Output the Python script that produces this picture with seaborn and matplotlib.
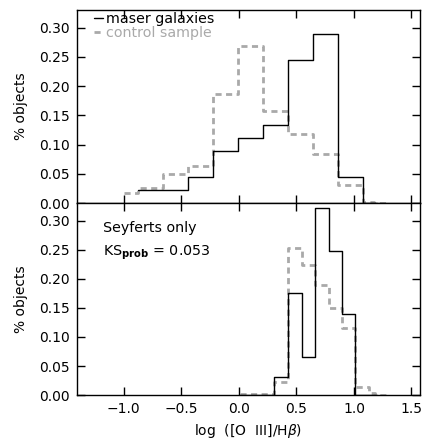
import numpy as np
import pandas as pd
import matplotlib
matplotlib.use("Agg")
import matplotlib.pyplot as plt
import seaborn as sns

# top panel: all galaxies
top_maser_edges = [-0.876, -0.659, -0.441, -0.224, -0.007, 0.210, 0.427, 0.645, 0.862, 1.079, 1.2]
top_maser_frac = [1/45, 1/45, 2/45, 4/45, 5/45, 6/45, 11/45, 13/45, 2/45, 0.0]

top_ctrl_edges = [-1.0, -0.876, -0.659, -0.441, -0.224, -0.007, 0.210, 0.427, 0.645, 0.862, 1.079, 1.171, 1.3]
top_ctrl_frac = [0.017, 0.026, 0.050, 0.064, 0.186, 0.269, 0.157, 0.118, 0.084, 0.031, 0.002, 0.0]

# bottom panel: Seyferts only
sey_maser_edges = [0.0, 0.308, 0.427, 0.545, 0.665, 0.780, 0.896, 1.012, 1.2]
sey_maser_frac = [0.0, 0.031, 0.175, 0.066, 0.321, 0.248, 0.139, 0.0]

sey_ctrl_edges = [0.013, 0.308, 0.427, 0.549, 0.665, 0.780, 0.896, 1.012, 1.128, 1.186, 1.3]
sey_ctrl_frac = [0.002, 0.023, 0.253, 0.223, 0.190, 0.149, 0.115, 0.0145, 0.003, 0.0]

ks_prob = 0.053

GRAY = "#a9a9a9"

sns.set_theme(style="ticks")
plt.rcParams["font.family"] = ["DejaVu Sans"]
plt.rcParams["mathtext.fontset"] = "dejavusans"
plt.rcParams["text.color"] = "black"
plt.rcParams["axes.labelcolor"] = "black"

fig = plt.figure(figsize=(4.30, 4.41), dpi=100)
ax1 = fig.add_axes([0.178, 0.5395, 0.7977, 0.4378])
ax2 = fig.add_axes([0.178, 0.104, 0.7977, 0.4355])


def draw_hist(ax, edges, frac, **kw):
    e = np.asarray(edges, dtype=float)
    df = pd.DataFrame({"x": (e[:-1] + e[1:]) / 2, "w": frac})
    sns.histplot(data=df, x="x", weights="w", bins=list(edges), element="step",
                 fill=False, ax=ax, **kw)


for ax, (me, mf, ce, cf) in zip(
        [ax1, ax2],
        [(top_maser_edges, top_maser_frac, top_ctrl_edges, top_ctrl_frac),
         (sey_maser_edges, sey_maser_frac, sey_ctrl_edges, sey_ctrl_frac)]):
    draw_hist(ax, ce, cf, color=GRAY, linewidth=2.0, linestyle=(0, (2.2, 1.6)),
              label="control sample")
    draw_hist(ax, me, mf, color="black", linewidth=1.0, label="maser galaxies")
    ax.set_xlim(-1.41, 1.57)
    ax.set_ylim(0, 0.33)
    ax.set_yticks([0.0, 0.05, 0.10, 0.15, 0.20, 0.25, 0.30])
    ax.set_yticklabels(["0.00", "0.05", "0.10", "0.15", "0.20", "0.25", "0.30"])
    ax.set_xticks([-1.0, -0.5, 0.0, 0.5, 1.0, 1.5])
    ax.tick_params(direction="in", length=6, width=1, top=True, right=True,
                   labelsize=10, colors="black", labelcolor="black", pad=5)
    ax.set_ylabel("% objects", fontsize=10, labelpad=8)
    for s in ax.spines.values():
        s.set_linewidth(1.0)
        s.set_color("black")

ax1.set_xlabel("")
ax1.tick_params(labelbottom=False)
ax2.set_xticklabels(["\u22121.0", "\u22120.5", "0.0", "0.5", "1.0", "1.5"])
ax2.set_xlabel(r"log  ([O  III]/H$\beta$)", fontsize=10, labelpad=4)

handles, labels = ax1.get_legend_handles_labels()
order = [labels.index("maser galaxies"), labels.index("control sample")]
leg = ax1.legend([handles[i] for i in order], [labels[i] for i in order],
                 loc="upper left", bbox_to_anchor=(0.035, 1.02), frameon=False,
                 handlelength=0.6, handletextpad=0.2, labelspacing=0.0,
                 fontsize=10.3, borderaxespad=0)
for txt, col in zip(leg.get_texts(), ["black", GRAY]):
    txt.set_color(col)

ax2.text(0.078, 0.87, "Seyferts only", transform=ax2.transAxes, fontsize=10.3,
         va="center")
ax2.text(0.078, 0.74, r"KS$_{\mathbf{prob}}$ = " + f"{ks_prob:.3f}",
         transform=ax2.transAxes, fontsize=10.3, va="center")

fig.savefig("out.png", dpi=100)
